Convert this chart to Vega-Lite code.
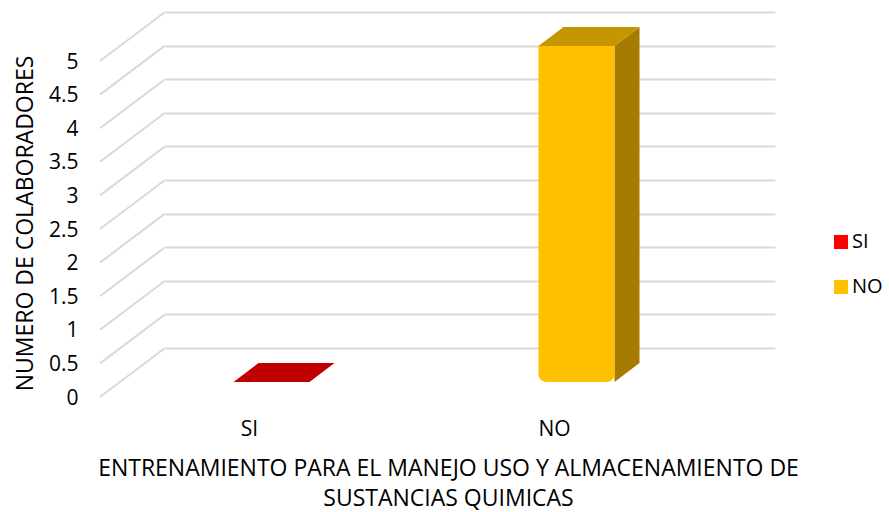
{
  "$schema": "https://vega.github.io/schema/vega-lite/v6.json",
  "width": 610,
  "height": 336,
  "autosize": {"type": "none"},
  "padding": {"left": 165, "top": 12, "right": 114, "bottom": 164},
  "background": "white",
  "config": {
    "view": {"stroke": null},
    "font": "Open Sans",
    "axis": {"labelColor": "#000000", "titleColor": "#000000", "titleFontWeight": "normal"}
  },
  "datasets": {
    "bars": [{"cat": "SI", "value": 0}, {"cat": "NO", "value": 5}],
    "grid": [{"v": 0}, {"v": 0.5}, {"v": 1}, {"v": 1.5}, {"v": 2}, {"v": 2.5}, {"v": 3}, {"v": 3.5}, {"v": 4}, {"v": 4.5}, {"v": 5}]
  },
  "layer": [
    {
      "data": {"name": "grid"},
      "mark": {"type": "rule", "color": "#d9d9d9", "strokeWidth": 2, "yOffset": 49},
      "encoding": {
        "x": {"value": -65},
        "x2": {"value": 0},
        "y": {
          "field": "v",
          "type": "quantitative",
          "scale": {"domain": [0, 5], "nice": false},
          "axis": {"values": [0, 0.5, 1, 1.5, 2, 2.5, 3, 3.5, 4, 4.5, 5], "format": "~g", "grid": true, "gridColor": "#d9d9d9", "gridWidth": 2, "domain": false, "ticks": false, "labelOffset": 50, "labelPadding": 87, "labelFontSize": 21, "title": "NUMERO DE COLABORADORES", "titleFontSize": 23, "titleX": -140, "titleY": 211, "titleBaseline": "middle", "titleAlign": "center"}
        },
        "y2": {"field": "v"}
      }
    },
    {
      "data": {"name": "bars"},
      "transform": [{"filter": "datum.value > 0"}],
      "mark": {"type": "bar", "color": "#A67C00", "size": 25, "xOffset": 4.5, "yOffset": 34, "y2Offset": 15},
      "encoding": {
        "x": {
          "field": "cat", "type": "nominal",
          "scale": {"domain": ["SI", "NO"], "paddingInner": 0, "paddingOuter": 0},
          "axis": {"domain": false, "ticks": false, "grid": false, "labelAngle": 0, "labelOffset": -68, "labelPadding": 81, "labelBaseline": "middle", "labelFontSize": 21, "title": ["ENTRENAMIENTO PARA EL MANEJO USO Y ALMACENAMIENTO DE", "SUSTANCIAS QUIMICAS"], "titleFontSize": 23, "titleLineHeight": 30, "titleX": 283, "titleY": 120, "titleBaseline": "middle", "titleAlign": "center"}
        },
        "y": {
          "field": "value", "type": "quantitative",
          "axis": {"values": [0, 0.5, 1, 1.5, 2, 2.5, 3, 3.5, 4, 4.5, 5], "format": "~g", "grid": true, "gridColor": "#d9d9d9", "gridWidth": 2, "domain": false, "ticks": false, "labelOffset": 50, "labelPadding": 87, "labelFontSize": 21, "title": "NUMERO DE COLABORADORES", "titleFontSize": 23, "titleX": -140, "titleY": 211, "titleBaseline": "middle", "titleAlign": "center"}
        },
        "y2": {"datum": 0}
      }
    },
    {
      "data": {"name": "bars"},
      "transform": [{"filter": "datum.value > 0"}],
      "mark": {"type": "point", "filled": true, "strokeWidth": 0, "opacity": 1, "size": 10000, "color": "#A67C00", "shape": "M0.76,0L1.26,-0.38L1.26,0Z", "xOffset": -46, "yOffset": 34},
      "encoding": {
        "x": {
          "field": "cat", "type": "nominal",
          "axis": {"domain": false, "ticks": false, "grid": false, "labelAngle": 0, "labelOffset": -68, "labelPadding": 81, "labelBaseline": "middle", "labelFontSize": 21, "title": ["ENTRENAMIENTO PARA EL MANEJO USO Y ALMACENAMIENTO DE", "SUSTANCIAS QUIMICAS"], "titleFontSize": 23, "titleLineHeight": 30, "titleX": 283, "titleY": 120, "titleBaseline": "middle", "titleAlign": "center"}
        },
        "y": {
          "field": "value", "type": "quantitative",
          "axis": {"values": [0, 0.5, 1, 1.5, 2, 2.5, 3, 3.5, 4, 4.5, 5], "format": "~g", "grid": true, "gridColor": "#d9d9d9", "gridWidth": 2, "domain": false, "ticks": false, "labelOffset": 50, "labelPadding": 87, "labelFontSize": 21, "title": "NUMERO DE COLABORADORES", "titleFontSize": 23, "titleX": -140, "titleY": 211, "titleBaseline": "middle", "titleAlign": "center"}
        }
      }
    },
    {
      "data": {"name": "bars"},
      "transform": [{"filter": "datum.value > 0"}],
      "mark": {"type": "point", "filled": true, "strokeWidth": 0, "opacity": 1, "size": 10000, "color": "#A67C00", "shape": "M0.76,0L1.26,-0.38L0.76,-0.38Z", "xOffset": -46, "yOffset": 34},
      "encoding": {
        "x": {
          "field": "cat", "type": "nominal",
          "axis": {"domain": false, "ticks": false, "grid": false, "labelAngle": 0, "labelOffset": -68, "labelPadding": 81, "labelBaseline": "middle", "labelFontSize": 21, "title": ["ENTRENAMIENTO PARA EL MANEJO USO Y ALMACENAMIENTO DE", "SUSTANCIAS QUIMICAS"], "titleFontSize": 23, "titleLineHeight": 30, "titleX": 283, "titleY": 120, "titleBaseline": "middle", "titleAlign": "center"}
        },
        "y": {
          "datum": 0, "type": "quantitative",
          "axis": {"values": [0, 0.5, 1, 1.5, 2, 2.5, 3, 3.5, 4, 4.5, 5], "format": "~g", "grid": true, "gridColor": "#d9d9d9", "gridWidth": 2, "domain": false, "ticks": false, "labelOffset": 50, "labelPadding": 87, "labelFontSize": 21, "title": "NUMERO DE COLABORADORES", "titleFontSize": 23, "titleX": -140, "titleY": 211, "titleBaseline": "middle", "titleAlign": "center"}
        }
      }
    },
    {
      "data": {"name": "bars"},
      "mark": {"type": "point", "filled": true, "strokeWidth": 0, "opacity": 1, "size": 10000, "shape": "M-0.76,0L0.76,0L1.26,-0.38L-0.26,-0.38Z", "xOffset": -46, "yOffset": 34},
      "encoding": {
        "x": {
          "field": "cat", "type": "nominal",
          "axis": {"domain": false, "ticks": false, "grid": false, "labelAngle": 0, "labelOffset": -68, "labelPadding": 81, "labelBaseline": "middle", "labelFontSize": 21, "title": ["ENTRENAMIENTO PARA EL MANEJO USO Y ALMACENAMIENTO DE", "SUSTANCIAS QUIMICAS"], "titleFontSize": 23, "titleLineHeight": 30, "titleX": 283, "titleY": 120, "titleBaseline": "middle", "titleAlign": "center"}
        },
        "y": {
          "field": "value", "type": "quantitative",
          "axis": {"values": [0, 0.5, 1, 1.5, 2, 2.5, 3, 3.5, 4, 4.5, 5], "format": "~g", "grid": true, "gridColor": "#d9d9d9", "gridWidth": 2, "domain": false, "ticks": false, "labelOffset": 50, "labelPadding": 87, "labelFontSize": 21, "title": "NUMERO DE COLABORADORES", "titleFontSize": 23, "titleX": -140, "titleY": 211, "titleBaseline": "middle", "titleAlign": "center"}
        },
        "color": {"condition": {"test": "datum.cat === 'SI'", "value": "#C00000"}, "value": "#C59600"}
      }
    },
    {
      "data": {"name": "bars"},
      "mark": {"type": "bar", "size": 76, "xOffset": -46, "yOffset": 34, "y2Offset": 34, "cornerRadiusBottomLeft": 8, "cornerRadiusBottomRight": 8},
      "encoding": {
        "x": {
          "field": "cat", "type": "nominal",
          "axis": {"domain": false, "ticks": false, "grid": false, "labelAngle": 0, "labelOffset": -68, "labelPadding": 81, "labelBaseline": "middle", "labelFontSize": 21, "title": ["ENTRENAMIENTO PARA EL MANEJO USO Y ALMACENAMIENTO DE", "SUSTANCIAS QUIMICAS"], "titleFontSize": 23, "titleLineHeight": 30, "titleX": 283, "titleY": 120, "titleBaseline": "middle", "titleAlign": "center"}
        },
        "y": {
          "field": "value", "type": "quantitative",
          "axis": {"values": [0, 0.5, 1, 1.5, 2, 2.5, 3, 3.5, 4, 4.5, 5], "format": "~g", "grid": true, "gridColor": "#d9d9d9", "gridWidth": 2, "domain": false, "ticks": false, "labelOffset": 50, "labelPadding": 87, "labelFontSize": 21, "title": "NUMERO DE COLABORADORES", "titleFontSize": 23, "titleX": -140, "titleY": 211, "titleBaseline": "middle", "titleAlign": "center"}
        },
        "y2": {"datum": 0},
        "color": {
          "field": "cat", "type": "nominal",
          "scale": {"domain": ["SI", "NO"], "range": ["#FF0000", "#FFC000"]},
          "legend": {"title": null, "orient": "none", "legendX": 666, "legendY": 220, "symbolType": "square", "symbolSize": 196, "symbolStrokeWidth": 0, "labelFontSize": 20, "labelColor": "#000000", "rowPadding": 25, "labelOffset": 1}
        }
      }
    }
  ]
}
